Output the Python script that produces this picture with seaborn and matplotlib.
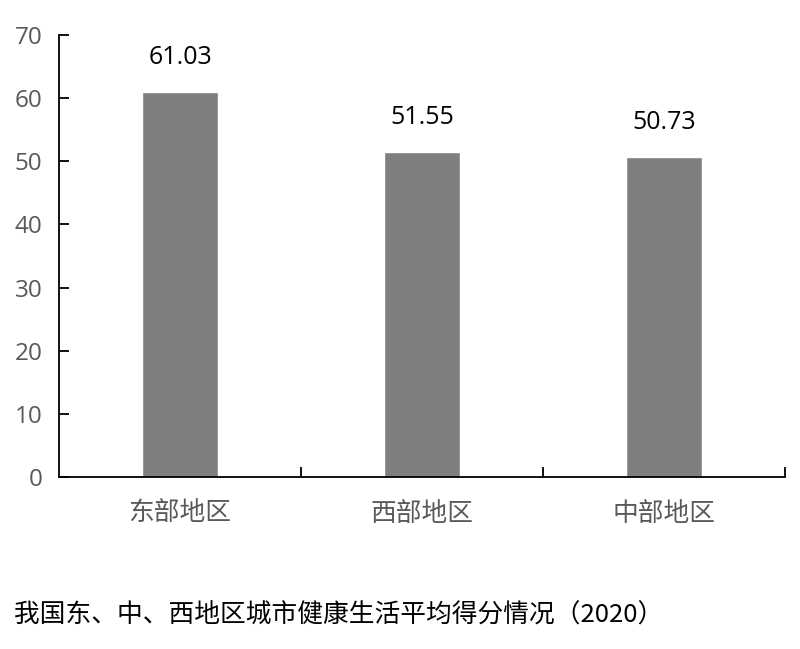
import matplotlib
matplotlib.use("Agg")
import matplotlib.pyplot as plt
import seaborn as sns
import pandas as pd
from matplotlib.ticker import FixedLocator

regions = ["东部地区", "西部地区", "中部地区"]
scores = [61.03, 51.55, 50.73]
y_ticks = [0, 10, 20, 30, 40, 50, 60, 70]
title = "我国东、中、西地区城市健康生活平均得分情况（2020）"

sns.set_theme(style="white")
plt.rcParams["font.family"] = ["Noto Sans CJK SC", "DejaVu Sans"]

df = pd.DataFrame({"region": regions, "score": scores})

fig = plt.figure(figsize=(8.0, 6.49), dpi=100)
ax = fig.add_axes([0.07375, 0.265, 0.9075, 0.681])

sns.barplot(data=df, x="region", y="score", color="#7f7f7f", saturation=1,
            width=0.31, ax=ax)

ax.set_xlim(-0.5, 2.5)
ax.set_ylim(0, 70)
ax.set_yticks(y_ticks)
ax.set_xlabel("")
ax.set_ylabel("")

for spine in ["top", "right"]:
    ax.spines[spine].set_visible(False)
for spine in ["left", "bottom"]:
    ax.spines[spine].set_color("black")
    ax.spines[spine].set_linewidth(1.3)

ax.tick_params(axis="y", direction="in", length=7, width=1.3, color="black",
               labelsize=17.5, labelcolor="#595959", pad=12, left=True)
for lbl in ax.get_yticklabels():
    lbl.set_fontfamily(["Open Sans", "DejaVu Sans"])

# category separators on the x axis
ax.xaxis.set_minor_locator(FixedLocator([0.5, 1.5, 2.5]))
ax.tick_params(axis="x", which="major", length=0, labelsize=18.5,
               labelcolor="#595959", pad=17)
ax.tick_params(axis="x", which="minor", direction="in", length=7, width=1.3,
               color="black", bottom=True)

for i, v in enumerate(scores):
    ax.text(i, v + 5.4, f"{v:.2f}", ha="center", va="center", fontsize=18,
            color="black", family=["Open Sans", "DejaVu Sans"])

fig.text(0.018, 0.052, title, ha="left", va="center", fontsize=18.5,
         color="black")

fig.savefig("out.png", dpi=100, facecolor="white")
